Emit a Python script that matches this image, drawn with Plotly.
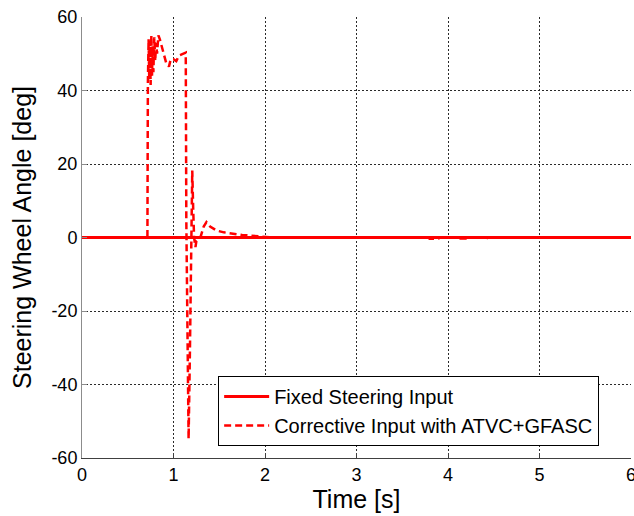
import plotly.graph_objects as go

# Time base and steering wheel angles [deg]
time_fixed = [0.0, 6.0]
angle_fixed = [0.0, 0.0]

time_corr = [
    0.0, 0.715, 0.72, 0.728, 0.735, 0.742, 0.75, 0.758, 0.765, 0.772,
    0.78, 0.79, 0.80, 0.81, 0.82, 0.835, 0.85, 0.87, 0.89, 0.92,
    0.95, 0.97, 1.00, 1.03, 1.06, 1.10, 1.134, 1.14, 1.15, 1.165,
    1.18, 1.195, 1.205, 1.215, 1.225, 1.24, 1.25, 1.27, 1.30, 1.33,
    1.36, 1.40, 1.47, 1.55, 1.65, 1.75, 1.85, 1.95, 2.05, 2.2,
    3.78, 3.80, 3.88, 3.92, 4.10, 4.12, 4.20, 4.24, 4.42, 4.44,
    4.47, 6.0,
]
angle_corr = [
    0.0, 0.0, 42.0, 54.0, 43.0, 53.5, 41.5, 55.0, 44.0, 52.0,
    45.0, 54.5, 48.0, 53.0, 50.0, 55.0, 54.0, 52.0, 50.0, 47.5,
    46.5, 48.5, 48.5, 48.0, 49.5, 50.0, 50.3, 5.0, -20.0, -54.8,
    -30.0, 5.0, 18.2, 8.0, 0.0, -2.6, -1.0, -0.5, 0.5, 3.0,
    4.2, 3.0, 1.9, 1.4, 1.0, 0.7, 0.5, 0.2, 0.05, 0.0,
    0.0, -0.35, -0.35, 0.0, 0.0, -0.3, -0.3, 0.0, 0.0, -0.3,
    0.0, 0.0,
]

x_ticks = [0, 1, 2, 3, 4, 5, 6]
y_ticks = [-60, -40, -20, 0, 20, 40, 60]

FONT = "Liberation Sans, Arial, sans-serif"
RED = "#ff0000"
GRID = "#2a2a2a"

fig = go.Figure()
fig.add_trace(go.Scatter(
    x=time_fixed, y=angle_fixed, mode="lines",
    name="Fixed Steering Input",
    line=dict(color=RED, width=3),
))
fig.add_trace(go.Scatter(
    x=time_corr, y=angle_corr, mode="lines",
    name="Corrective Input with ATVC+GFASC",
    line=dict(color=RED, width=2.5, dash="7px,4px"),
))

fig.update_layout(
    width=634, height=516,
    margin=dict(l=82, r=3, t=17, b=58),
    paper_bgcolor="white", plot_bgcolor="white",
    font=dict(family=FONT, size=18, color="black"),
    showlegend=True,
    legend=dict(
        x=0.248, y=0.186, xanchor="left", yanchor="top",
        bgcolor="white", bordercolor="black", borderwidth=1,
        font=dict(family=FONT, size=20, color="black"),
        itemwidth=45, tracegroupgap=0,
    ),
)

fig.update_xaxes(
    range=[0, 6], tickvals=x_ticks, ticktext=[str(v) for v in x_ticks],
    showline=True, linecolor="#404040", linewidth=1,
    showgrid=True, gridcolor=GRID, gridwidth=1, griddash="2px,2px",
    zeroline=False, ticks="inside", ticklen=5, tickcolor="#404040",
    tickfont=dict(size=18), automargin=False, ticklabeloverflow="allow",
    title=dict(text="Time [s]", font=dict(size=25), standoff=0),
)
fig.update_yaxes(
    range=[-60, 60], tickvals=y_ticks, ticktext=[str(v) for v in y_ticks],
    showline=True, linecolor="#8c8c8c", linewidth=1,
    showgrid=True, gridcolor=GRID, gridwidth=1, griddash="2px,2px",
    zeroline=False, ticks="inside", ticklen=5, tickcolor="#8c8c8c",
    tickfont=dict(size=18), automargin=False,
    title=dict(text="Steering Wheel Angle [deg]", font=dict(size=25), standoff=12),
)

fig.write_html("out.html")
